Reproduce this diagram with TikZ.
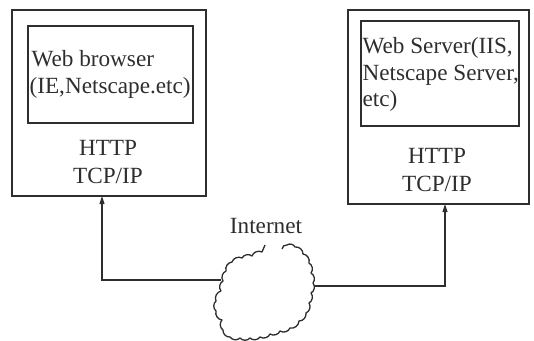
\documentclass[tikz,border=0pt]{standalone}
\usepackage{fontspec}
\setmainfont{Liberation Serif}
\usetikzlibrary{arrows.meta}
\definecolor{ink}{HTML}{2E2E2E}
\begin{document}
\begin{tikzpicture}[x=1pt,y=-1pt,
  line width=1.2pt, draw=ink,
  box/.style={draw=ink, line width=1.2pt, inner sep=0pt, outer sep=0pt},
  lbl/.style={text=ink, font=\fontsize{23.2}{27}\selectfont, inner sep=0pt},
  link/.style={draw=ink, line width=1.1pt, -{Triangle[length=8pt,width=5pt]}},
  scallop/.style={bend right=50}]
\useasboundingbox (0,0) rectangle (534,340);

% client machine
\node[box, minimum width=194pt, minimum height=186pt, anchor=north west] (client) at (12,10) {};
\node[box, minimum width=165pt, minimum height=97pt, anchor=north west] (browser) at (28,26) {};
\node[lbl, anchor=base west] (browsertxt) at (31,66) {Web browser};
\node[lbl, anchor=base west] (browsertxt2) at (29,93) {(IE,Netscape.etc)};
\node[lbl, anchor=base] (chttp) at (108,155) {HTTP};
\node[lbl, anchor=base] (ctcp) at (108,183) {TCP/IP};

% server machine
\node[box, minimum width=181pt, minimum height=194pt, anchor=north west] (server) at (348,10) {};
\node[box, minimum width=158pt, minimum height=105pt, anchor=north west] (websrv) at (361,21) {};
\node[lbl, anchor=base west] (srvtxt1) at (362,53) {Web Server(IIS,};
\node[lbl, anchor=base west] (srvtxt2) at (362,80) {Netscape Server,};
\node[lbl, anchor=base west] (srvtxt3) at (362,106) {etc)};
\node[lbl, anchor=base] (shttp) at (437,163) {HTTP};
\node[lbl, anchor=base] (stcp) at (437,191) {TCP/IP};

% internet cloud: an open scalloped outline
\node[lbl, anchor=base] (inet) at (266,233) {Internet};
\draw[ink, line width=1.3pt, line join=round]
  (265,245) -- (262,252)
  to[scallop] (252,256) to[scallop] (242,258) to[scallop] (232,262)
  to[scallop] (226,271) to[scallop] (223,281) to[scallop] (221,291)
  to[scallop] (216,301) to[scallop] (216,311) to[scallop] (222,320)
  to[scallop] (223,330) to[scallop] (230,337) to[scallop] (240,338)
  to[scallop] (250,338) to[scallop] (260,337) to[scallop] (270,334)
  to[scallop] (280,331) to[scallop] (290,328) to[scallop] (299,321)
  to[scallop] (306,313) to[scallop] (309,303) to[scallop] (311,293)
  to[scallop] (313,283) to[scallop] (311,273) to[scallop] (309,263)
  to[scallop] (303,254) to[scallop] (295,247) to[scallop] (287,245)
  to[scallop] (282,249);
\coordinate (cloudL) at (221,280);
\coordinate (cloudR) at (314,286);

% links from the cloud up to each machine
\draw[link] (cloudL) -| (client.south -| 102,0);
\draw[link] (cloudR) -| (server.south -| 445,0);
\end{tikzpicture}
\end{document}
